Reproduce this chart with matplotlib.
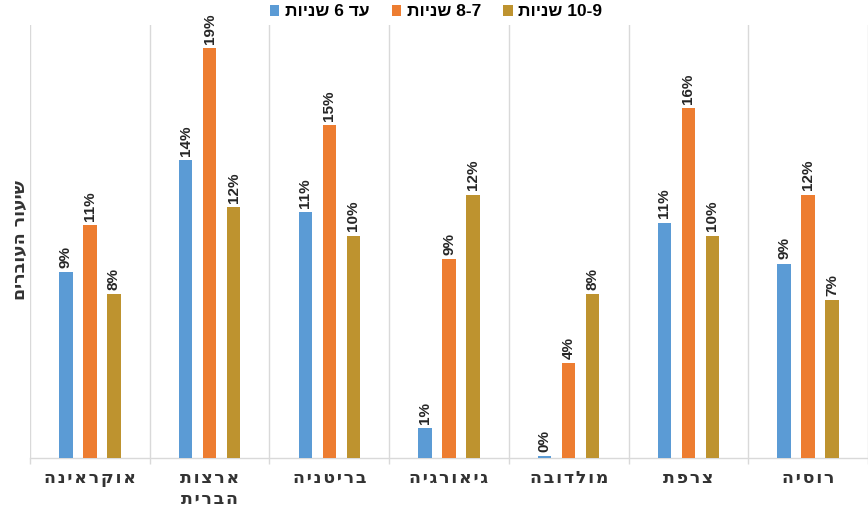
import matplotlib.pyplot as plt
import numpy as np

# data (percent)
countries = ['אוקראינה', 'ארצות\nהברית', 'בריטניה', 'גיאורגיה', 'מולדובה', 'צרפת', 'רוסיה']
series_names = ['עד 6 שניות', '8-7 שניות', '10-9 שניות']
upto6 = [8.6, 13.8, 11.4, 1.4, 0.1, 10.9, 9.0]
y7_8 = [10.8, 19.0, 15.4, 9.2, 4.4, 16.2, 12.2]
y9_10 = [7.6, 11.6, 10.3, 12.2, 7.6, 10.3, 7.3]
y_title = 'שיעור העוברים'

colors = ['#5B9BD5', '#ED7D31', '#BE932F']


def is_heb(tok):
    return any('\u0590' <= ch <= '\u05FF' for ch in tok)


def rtl(s):
    # matplotlib has no bidi support, so build the visual order by hand
    toks = s.split(' ')[::-1]
    return ' '.join(t[::-1] if is_heb(t) else t for t in toks)


def spaced(s):
    return '\u200a'.join(s)


fig = plt.figure(figsize=(8.68, 5.11), dpi=100)
ax = fig.add_axes([30 / 868, 53 / 511, 838 / 868, 433 / 511])

x = np.arange(len(countries))
offsets = [-0.2, 0.0, 0.2]
all_vals = [upto6, y7_8, y9_10]
bars = []
for vals, off, col, name in zip(all_vals, offsets, colors, series_names):
    b = ax.bar(x + off, vals, width=0.112, color=col, label=rtl(name), zorder=3)
    bars.append(b)
    for xi, v in zip(x + off, vals):
        ax.annotate(f'{round(v)}%', (xi, v), xytext=(0, 3), textcoords='offset points',
                    rotation=90, ha='center', va='bottom', fontsize=11,
                    fontweight='bold', color='#262626', family='Liberation Sans')

ax.set_xlim(-0.5, len(countries) - 0.5)
ax.set_ylim(0, 20.05)
ax.set_yticks([])

ax.set_xticks(x)
labels = ['\n'.join(spaced(rtl(line)) for line in c.split('\n')) for c in countries]
ax.set_xticklabels(labels, fontsize=12.5, fontweight='bold', color='#333333',
                   family='DejaVu Sans', linespacing=1.2, va='top')
ax.tick_params(axis='x', which='major', length=0, pad=8)
ax.set_xticks(np.arange(-0.5, len(countries), 1), minor=True)
ax.tick_params(axis='x', which='minor', length=4, color='#D9D9D9', width=1)
ax.grid(which='minor', axis='x', color='#D9D9D9', linewidth=1, zorder=0)

for side in ['left', 'right', 'top']:
    ax.spines[side].set_visible(False)
ax.spines['bottom'].set_color('#D9D9D9')
ax.spines['bottom'].set_linewidth(1)

fig.text(20 / 868, 1 - 240 / 511, rtl(y_title), rotation=90, ha='center', va='center',
         fontsize=12.5, fontweight='bold', color='#333333', family='DejaVu Sans')

fig.legend(handles=bars, loc='center', bbox_to_anchor=(436 / 868, 1 - 12 / 511), ncol=3,
           frameon=False, handlelength=0.55, handleheight=0.55, handletextpad=0.3,
           columnspacing=1.3, prop={'family': 'Liberation Sans', 'weight': 'bold', 'size': 12.5})

fig.savefig('out.png', dpi=100, facecolor='white')
